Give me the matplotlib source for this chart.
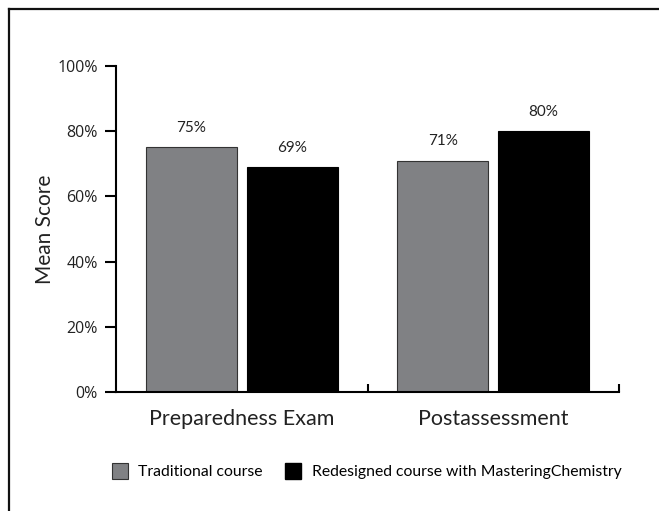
import matplotlib
matplotlib.use("Agg")
import numpy as np
import matplotlib.pyplot as plt
from matplotlib.patches import Patch
from matplotlib.lines import Line2D

categories = ["Preparedness Exam", "Postassessment"]
series_names = ["Traditional course", "Redesigned course with MasteringChemistry"]
traditional = [75, 71]
redesigned = [69, 80]
yticks = [0, 20, 40, 60, 80, 100]

gray = "#808184"
black = "#000000"

plt.rcParams["font.family"] = ["Lato", "DejaVu Sans"]

fig = plt.figure(figsize=(6.59, 5.11), dpi=100)
ax = fig.add_axes([116 / 659, 1 - 392 / 511, (619 - 116) / 659, (392 - 66) / 511])

x = np.arange(len(categories))
w = 0.362
off = 0.2
b1 = ax.bar(x - off, traditional, w, color=gray, edgecolor="#333333", linewidth=0.8)
b2 = ax.bar(x + off, redesigned, w, color=black, edgecolor="#000000", linewidth=0.8)

for bars, vals in ((b1, traditional), (b2, redesigned)):
    for bar, v in zip(bars, vals):
        ax.annotate(f"{v}%", (bar.get_x() + bar.get_width() / 2, v),
                    xytext=(0, 9), textcoords="offset points",
                    ha="center", va="bottom", fontsize=11, color="#222222")

ax.set_xlim(-0.5, 1.5)
ax.set_ylim(0, 100)
ax.set_yticks(yticks)
ax.set_yticklabels([f"{t}%" for t in yticks], fontsize=11.5, color="#222222",
                   family=["Open Sans", "DejaVu Sans"])
ax.set_xticks([0.5, 1.5])
ax.set_xticklabels([])
ax.tick_params(axis="y", direction="out", length=8, width=1.5, pad=5)
ax.tick_params(axis="x", direction="in", length=6, width=1.5)
for i, c in enumerate(categories):
    ax.text(i, -0.083, c, transform=ax.get_xaxis_transform(), ha="center",
            va="center", fontsize=15.5, color="#222222")

ax.set_ylabel("Mean Score", fontsize=15, color="#222222", labelpad=2)
for s in ("top", "right"):
    ax.spines[s].set_visible(False)
for s in ("left", "bottom"):
    ax.spines[s].set_linewidth(1.5)

handles = [Patch(facecolor=gray, edgecolor="#333333", linewidth=0.8),
           Patch(facecolor=black, edgecolor="#000000")]
fig.legend(handles, series_names, loc="center", bbox_to_anchor=(366.5 / 659, 1 - 471 / 511),
           ncol=2, frameon=False, fontsize=11.3, handlelength=1.05, handleheight=1.15,
           handletextpad=0.65, columnspacing=1.4)

# partial frame around the chart (top and left edges only)
fig.add_artist(Line2D([9 / 659, 1], [1 - 9 / 511, 1 - 9 / 511], color="#111111", lw=1.6,
                      transform=fig.transFigure))
fig.add_artist(Line2D([9 / 659, 9 / 659], [0, 1 - 9 / 511], color="#111111", lw=1.6,
                      transform=fig.transFigure))

fig.savefig("out.png", dpi=100)
